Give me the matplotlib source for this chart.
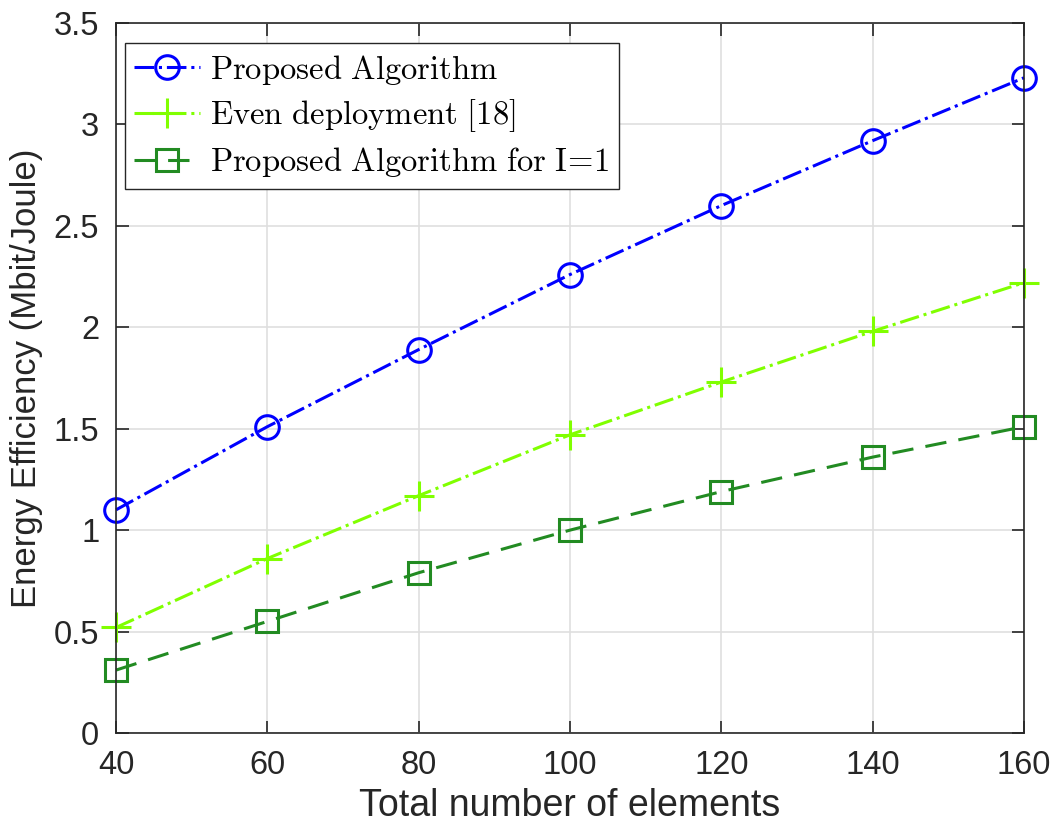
import matplotlib
matplotlib.use("Agg")
import matplotlib.pyplot as plt

# Data
elements = [40, 60, 80, 100, 120, 140, 160]
proposed = [1.10, 1.51, 1.89, 2.26, 2.60, 2.92, 3.23]
even_deploy = [0.52, 0.86, 1.17, 1.47, 1.73, 1.98, 2.22]
proposed_i1 = [0.31, 0.55, 0.79, 1.00, 1.19, 1.36, 1.51]

labels = [r"$\mathrm{Proposed\ Algorithm}$",
          r"$\mathrm{Even\ deployment\ [18]}$",
          r"$\mathrm{Proposed\ Algorithm\ for\ I\!=\!1}$"]

plt.rcParams["mathtext.fontset"] = "cm"
plt.rcParams["font.family"] = ["Liberation Sans", "DejaVu Sans"]

fig = plt.figure(figsize=(10.53, 8.30), dpi=100)
ax = fig.add_axes([0.1102, 0.1169, 0.8623, 0.8554])

ax.plot(elements, proposed, color="#0000FF", linestyle="-.", linewidth=2.2,
        marker="o", markersize=17, markerfacecolor="none", markeredgewidth=2.2,
        label=labels[0], clip_on=False)
ax.plot(elements, even_deploy, color="#80FF00", linestyle="-.", linewidth=2.2,
        marker="+", markersize=21, markeredgewidth=2.2, label=labels[1],
        clip_on=False)
ax.plot(elements, proposed_i1, color="#228B22", linestyle="--", linewidth=2.2,
        dashes=(7, 4), marker="s", markersize=16, markerfacecolor="none",
        markeredgewidth=2.2, label=labels[2], clip_on=False)

ax.set_xlim(40, 160)
ax.set_ylim(0, 3.5)
ax.set_xticks(range(40, 161, 20))
ax.set_yticks([0, 0.5, 1, 1.5, 2, 2.5, 3, 3.5])
ax.set_yticklabels(["0", "0.5", "1", "1.5", "2", "2.5", "3", "3.5"])

ax.grid(True, color="#DFDFDF", linewidth=1.2)
ax.set_axisbelow(True)
for s in ax.spines.values():
    s.set_color("#262626")
    s.set_linewidth(1.2)
ax.tick_params(direction="in", length=9, width=1.2, colors="#262626",
               labelsize=23.5, top=True, right=True, pad=12)

ax.set_xlabel("Total number of elements", fontsize=27, color="#262626",
              labelpad=5)
ax.set_ylabel("Energy Efficiency (Mbit/Joule)", fontsize=25, color="#262626",
              labelpad=8)

leg = ax.legend(loc="upper left", bbox_to_anchor=(0.0095, 0.972),
                fontsize=23.5, frameon=True, fancybox=False, edgecolor="#262626",
                framealpha=1, handlelength=2.0, handletextpad=0.3,
                borderpad=0.3, labelspacing=0.33, borderaxespad=0)
leg.get_frame().set_linewidth(1.0)

fig.savefig("out.png", dpi=100)
